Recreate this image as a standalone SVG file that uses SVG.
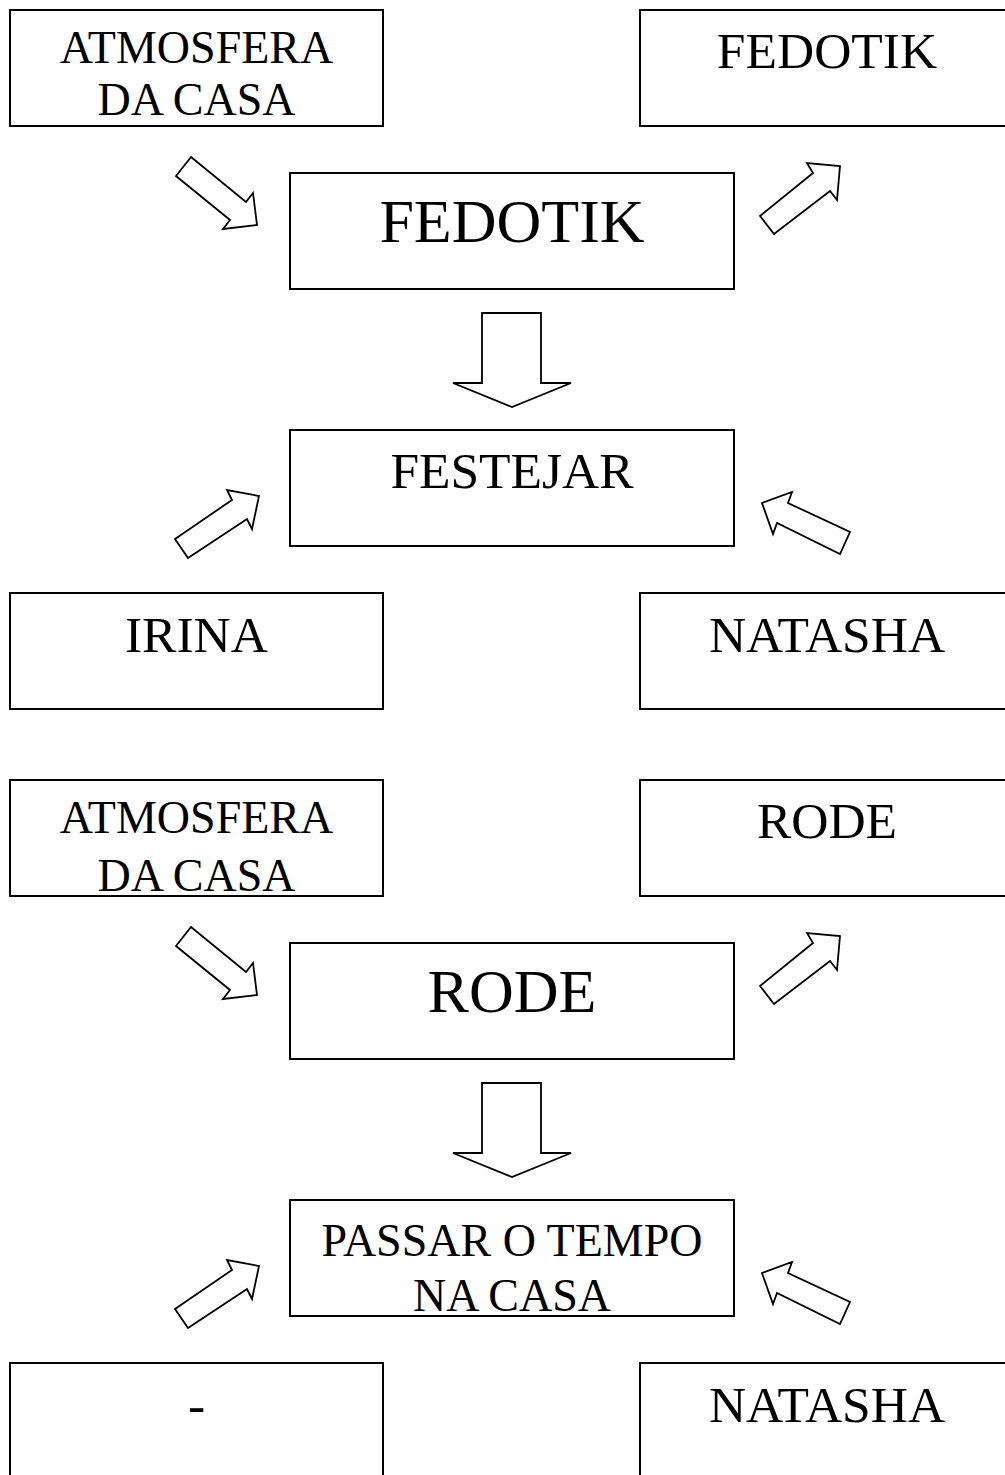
<svg xmlns="http://www.w3.org/2000/svg" width="1005" height="1475" viewBox="0 0 1005 1475">
<style>
.box{fill:#fff;stroke:#000;stroke-width:2}
.arr{fill:#fff;stroke:#000;stroke-width:1.8;stroke-linejoin:miter}
text{font-family:"Liberation Serif","Times New Roman",serif;fill:#000;text-anchor:middle}
.t46{font-size:46px}
.t51{font-size:51.5px}
.t62{font-size:62px}
</style>
<defs>
<clipPath id="clipA2"><rect x="10" y="780" width="373" height="112"/></clipPath>
<clipPath id="clipP2"><rect x="290" y="1200" width="444" height="111"/></clipPath>
</defs>
<rect width="1005" height="1475" fill="#fff"/>
<g id="connectors">
<path class="arr" d="M191,157 L246,202 L253,193 L257,225 L223,229 L230,220 L176,176 Z"/>
<path class="arr" d="M760,216 L813,173 L807,163 L840,166 L837,200 L830,191 L774,234 Z"/>
<path class="arr" d="M482,313 L541,313 L541,383 L571,383 L512,407 L453,383 L482,383 Z"/>
<path class="arr" d="M175,539 L232,500 L227,490 L259,496 L252,529 L247,519 L188,558 Z"/>
<path class="arr" d="M762,503 L792,492 L788,503 L850,532 L840,554 L777,523 L773,534 Z"/>
<g transform="translate(0,770)">
<path class="arr" d="M191,157 L246,202 L253,193 L257,225 L223,229 L230,220 L176,176 Z"/>
<path class="arr" d="M760,216 L813,173 L807,163 L840,166 L837,200 L830,191 L774,234 Z"/>
<path class="arr" d="M482,313 L541,313 L541,383 L571,383 L512,407 L453,383 L482,383 Z"/>
<path class="arr" d="M175,539 L232,500 L227,490 L259,496 L252,529 L247,519 L188,558 Z"/>
<path class="arr" d="M762,503 L792,492 L788,503 L850,532 L840,554 L777,523 L773,534 Z"/>
</g>
</g>
<g id="atmosfera1"><rect class="box" x="10" y="10" width="373" height="116"/><text class="t46" x="196.5" y="63">ATMOSFERA</text><text class="t46" x="196.5" y="115">DA CASA</text></g>
<g id="fedotik-small"><rect class="box" x="640" y="10" width="373" height="116"/><text class="t51" x="827" y="68">FEDOTIK</text></g>
<g id="fedotik-main"><rect class="box" x="290" y="173" width="444" height="116"/><text class="t62" x="512" y="242">FEDOTIK</text></g>
<g id="festejar"><rect class="box" x="290" y="430" width="444" height="116"/><text class="t51" x="512" y="488">FESTEJAR</text></g>
<g id="irina"><rect class="box" x="10" y="593" width="373" height="116"/><text class="t51" x="196.5" y="652">IRINA</text></g>
<g id="natasha1"><rect class="box" x="640" y="593" width="373" height="116"/><text class="t51" x="827" y="652">NATASHA</text></g>
<g id="atmosfera2"><rect class="box" x="10" y="780" width="373" height="116"/><g clip-path="url(#clipA2)"><text class="t46" x="196.5" y="833">ATMOSFERA</text><text class="t46" x="196.5" y="891">DA CASA</text></g></g>
<g id="rode-small"><rect class="box" x="640" y="780" width="373" height="116"/><text class="t51" x="827" y="838">RODE</text></g>
<g id="rode-main"><rect class="box" x="290" y="943" width="444" height="116"/><text class="t62" x="512" y="1012">RODE</text></g>
<g id="passar"><rect class="box" x="290" y="1200" width="444" height="116"/><g clip-path="url(#clipP2)"><text class="t46" x="512" y="1256">PASSAR O TEMPO</text><text class="t46" x="512" y="1311">NA CASA</text></g></g>
<g id="dash"><rect class="box" x="10" y="1363" width="373" height="116"/><text class="t51" x="196.5" y="1422">-</text></g>
<g id="natasha2"><rect class="box" x="640" y="1363" width="373" height="116"/><text class="t51" x="827" y="1422">NATASHA</text></g>
</svg>
